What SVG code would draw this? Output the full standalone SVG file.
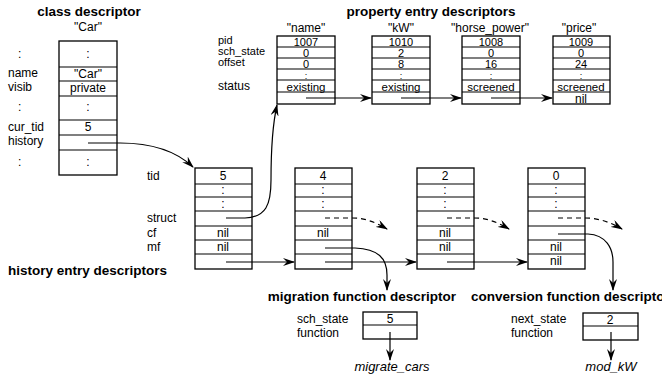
<svg xmlns="http://www.w3.org/2000/svg" width="662" height="380" viewBox="0 0 662 380">
<defs>
<style>
text{font-family:"Liberation Sans",Arial,sans-serif;font-size:12px;fill:#000}
.t{font-weight:bold;font-size:13.5px}
.c{text-anchor:middle}
.s{font-size:11px}
.m{font-size:11.5px}
.d{font-size:9px}
.i{font-style:italic;font-size:13px}
.box{fill:#fff;stroke:#000;stroke-width:1.3}
.ln{stroke:#000;stroke-width:1.1;fill:none}
.cn{stroke:#000;stroke-width:1.2;fill:none;marker-end:url(#ah)}
.dash{stroke-dasharray:5 4}
</style>
<marker id="ah" viewBox="0 0 12 8" refX="11" refY="4" markerWidth="12" markerHeight="8" markerUnits="userSpaceOnUse" orient="auto">
<path d="M0,0 L12,4 L0,8 L4,4 z" fill="#000"/>
</marker>
</defs>

<g id="class-descriptor">
<text class="t c" x="89" y="16">class descriptor</text>
<text class="c" x="88" y="31">"Car"</text>
<rect class="box" x="59" y="41" width="58" height="134"/>
<path class="ln" d="M59,67H117M59,81H117M59,96H117M59,120H117M59,135H117M59,150H117"/>
<text x="18" y="58">:</text>
<text x="8" y="77">name</text>
<text x="8" y="91">visib</text>
<text x="18" y="111">:</text>
<text x="8" y="131">cur_tid</text>
<text x="8" y="145">history</text>
<text x="18" y="166">:</text>
<text class="c" x="88" y="58">:</text>
<text class="c" x="88" y="78">"Car"</text>
<text class="c" x="88" y="92">private</text>
<text class="c" x="88" y="111">:</text>
<text class="c" x="88" y="131">5</text>
<text class="c" x="88" y="166">:</text>
</g>

<g id="property-labels">
<text class="t c" x="431" y="16">property entry descriptors</text>
<text class="s" x="218" y="44">pid</text>
<text class="s" x="218" y="55">sch_state</text>
<text class="s" x="218" y="66">offset</text>
<text x="218" y="90">status</text>
</g>

<g id="prop-name">
<text class="c" x="306" y="32">"name"</text>
<rect class="box" x="277" y="36" width="58" height="68"/>
<path class="ln" d="M277,47H335M277,58H335M277,69H335M277,80H335M277,92H335"/>
<text class="c s" x="306" y="45.5">1007</text>
<text class="c s" x="306" y="56.5">0</text>
<text class="c s" x="306" y="67.5">0</text>
<text class="c d" x="306" y="78.5">:</text>
<text class="c m" x="306" y="91">existing</text>
</g>
<g id="prop-kW">
<text class="c" x="401" y="32">"kW"</text>
<rect class="box" x="372" y="36" width="58" height="68"/>
<path class="ln" d="M372,47H430M372,58H430M372,69H430M372,80H430M372,92H430"/>
<text class="c s" x="401" y="45.5">1010</text>
<text class="c s" x="401" y="56.5">2</text>
<text class="c s" x="401" y="67.5">8</text>
<text class="c d" x="401" y="78.5">:</text>
<text class="c m" x="401" y="91">existing</text>
</g>
<g id="prop-horse_power">
<text class="c" x="490" y="32">"horse_power"</text>
<rect class="box" x="462" y="36" width="58" height="68"/>
<path class="ln" d="M462,47H520M462,58H520M462,69H520M462,80H520M462,92H520"/>
<text class="c s" x="491" y="45.5">1008</text>
<text class="c s" x="491" y="56.5">0</text>
<text class="c s" x="491" y="67.5">16</text>
<text class="c d" x="491" y="78.5">:</text>
<text class="c m" x="491" y="91">screened</text>
</g>
<g id="prop-price">
<text class="c" x="579" y="32">"price"</text>
<rect class="box" x="553" y="36" width="57" height="68"/>
<path class="ln" d="M553,47H610M553,58H610M553,69H610M553,80H610M553,92H610"/>
<text class="c s" x="581" y="45.5">1009</text>
<text class="c s" x="581" y="56.5">0</text>
<text class="c s" x="581" y="67.5">24</text>
<text class="c d" x="581" y="78.5">:</text>
<text class="c m" x="581" y="91">screened</text>
<text class="c" x="581" y="102.5">nil</text>
</g>

<g id="history-labels">
<text x="147" y="180">tid</text>
<text x="147" y="222">struct</text>
<text x="147" y="237">cf</text>
<text x="147" y="251">mf</text>
<text class="t" x="8" y="275">history entry descriptors</text>
</g>

<g id="hist-5">
<rect class="box" x="195" y="168" width="57" height="101"/>
<path class="ln" d="M195,184H252M195,197H252M195,211H252M195,226H252M195,240H252M195,254H252"/>
<text class="c" x="223" y="180">5</text>
<text class="c" x="223" y="194">:</text>
<text class="c" x="223" y="208">:</text>
<text class="c" x="223" y="237">nil</text>
<text class="c" x="223" y="251">nil</text>
</g>
<g id="hist-4">
<rect class="box" x="295" y="168" width="57" height="101"/>
<path class="ln" d="M295,184H352M295,197H352M295,211H352M295,226H352M295,240H352M295,254H352"/>
<text class="c" x="323" y="180">4</text>
<text class="c" x="323" y="194">:</text>
<text class="c" x="323" y="208">:</text>
<text class="c" x="323" y="237">nil</text>
</g>
<g id="hist-2">
<rect class="box" x="417" y="168" width="57" height="101"/>
<path class="ln" d="M417,184H474M417,197H474M417,211H474M417,226H474M417,240H474M417,254H474"/>
<text class="c" x="445" y="180">2</text>
<text class="c" x="445" y="194">:</text>
<text class="c" x="445" y="208">:</text>
<text class="c" x="445" y="237">nil</text>
<text class="c" x="445" y="251">nil</text>
</g>
<g id="hist-0">
<rect class="box" x="528" y="168" width="57" height="101"/>
<path class="ln" d="M528,184H585M528,197H585M528,211H585M528,226H585M528,240H585M528,254H585"/>
<text class="c" x="556" y="180">0</text>
<text class="c" x="556" y="194">:</text>
<text class="c" x="556" y="208">:</text>
<text class="c" x="556" y="251">nil</text>
<text class="c" x="556" y="265">nil</text>
</g>

<g id="migration-function-descriptor">
<text class="t c" x="362" y="301">migration function descriptor</text>
<text x="297" y="323">sch_state</text>
<text x="297" y="337">function</text>
<rect class="box" x="363" y="312" width="54" height="27"/>
<path class="ln" d="M363,325H417"/>
<text class="c" x="390" y="323">5</text>
<text class="c i" x="392" y="371">migrate_cars</text>
</g>

<g id="conversion-function-descriptor">
<text class="t" x="471" y="301">conversion function descriptor</text>
<text x="511" y="323">next_state</text>
<text x="511" y="337">function</text>
<rect class="box" x="583" y="313" width="55" height="27"/>
<path class="ln" d="M583,326H638"/>
<text class="c" x="610" y="324">2</text>
<text class="c i" x="611" y="371">mod_kW</text>
</g>

<g id="connectors">
<path class="cn" d="M88,143 L120,143 C150,143 175,150 193,167"/>
<path class="cn" d="M226,218 L245,218 C266,217 271,205 271,180 C271,150 272,127 277,105"/>
<path class="cn" d="M306,98 L371,98"/>
<path class="cn" d="M401,98 L461,98"/>
<path class="cn" d="M491,98 L552,98"/>
<path class="cn" d="M226,262 L294,262"/>
<path class="cn" d="M325,262 L416,262"/>
<path class="cn" d="M447,262 L527,262"/>
<path class="cn dash" d="M325,218 L352,218 C365,218 375,222 387,229"/>
<path class="cn dash" d="M447,218 L474,218 C487,218 497,222 509,229"/>
<path class="cn dash" d="M558,218 L585,218 C598,218 610,222 622,229"/>
<path class="cn" d="M325,248 L355,248 C378,249 387,258 387,275 L387,290"/>
<path class="cn" d="M558,234 L588,234 C606,235 613,248 613,262 L613,290"/>
<path class="cn" d="M390,332 L390,360"/>
<path class="cn" d="M611,332 L611,360"/>
</g>
</svg>
